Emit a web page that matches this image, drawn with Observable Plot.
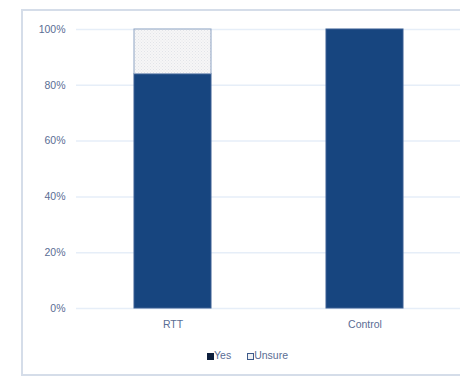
<!DOCTYPE html>
<html><head><meta charset="utf-8">
<script src="https://cdn.jsdelivr.net/npm/d3@7"></script>
<script src="https://cdn.jsdelivr.net/npm/@observablehq/plot@0.6"></script>
<style>
html,body{margin:0;padding:0;background:#fff;width:460px;height:379px;overflow:hidden;}
#frame{position:absolute;left:21px;top:9px;width:460px;height:367px;border:2px solid #d5dde9;box-sizing:border-box;}
#chart{position:absolute;left:0;top:0;}
#legend{position:absolute;top:348px;left:207px;font:10.5px "Liberation Sans",Arial,sans-serif;color:#5a6d94;white-space:nowrap;line-height:14px;}
#legend span.sw{display:inline-block;width:7px;height:7px;box-sizing:border-box;vertical-align:-0.5px;}
</style></head>
<body>
<div id="frame"></div>
<div id="chart"></div>
<div id="legend"><span class="sw" style="background:#0d1f3c"></span>Yes<span style="display:inline-block;width:16px"></span><span class="sw" style="border:1.5px solid #3d5a8a;background:#eef0f3"></span>Unsure</div>
<script>
const groups = ["RTT", "Control"];
const series = ["Yes", "Unsure"];
const yesValues = [0.84, 1.0];
const unsureValues = [0.16, 0];
const yTicks = [0, 0.2, 0.4, 0.6, 0.8, 1.0];

const rows = [];
groups.forEach((g, i) => {
  rows.push({group: g, series: "Yes", value: yesValues[i]});
  rows.push({group: g, series: "Unsure", value: unsureValues[i]});
});

const chart = Plot.plot({
  width: 460,
  height: 330,
  marginTop: 29,
  marginBottom: 22,
  marginLeft: 76,
  marginRight: 0,
  style: {fontFamily: "Liberation Sans, Arial, sans-serif", fontSize: "10.5px", color: "#5a6d94", background: "transparent"},
  x: {domain: groups, paddingInner: 0.6, paddingOuter: 0.3, label: null, tickSize: 0, tickPadding: 12},
  y: {domain: [0, 1], ticks: yTicks, tickFormat: d => Math.round(d * 100) + "%", label: null, tickSize: 0, tickPadding: 11},
  color: {domain: series, range: ["#17457f", "url(#unsurePat)"]},
  marks: [
    Plot.ruleY(yTicks, {stroke: "#e6eef8", strokeWidth: 1.5}),
    Plot.barY(rows, Plot.stackY({x: "group", y: "value", fill: "series", order: series,
      stroke: d => d.series === "Yes" ? "#3a5f93" : "#8ea3c3", strokeWidth: 1, filter: d => d.value > 0}))
  ]
});

const defs = `<defs><pattern id="unsurePat" width="3" height="3" patternUnits="userSpaceOnUse">
<rect width="3" height="3" fill="#f6f6f7"/><rect width="1" height="1" fill="#e2e4e8"/><rect x="1.5" y="1.5" width="1" height="1" fill="#e6e7ea"/></pattern></defs>`;
chart.insertAdjacentHTML("afterbegin", defs);
document.getElementById("chart").appendChild(chart);
</script>
</body></html>
